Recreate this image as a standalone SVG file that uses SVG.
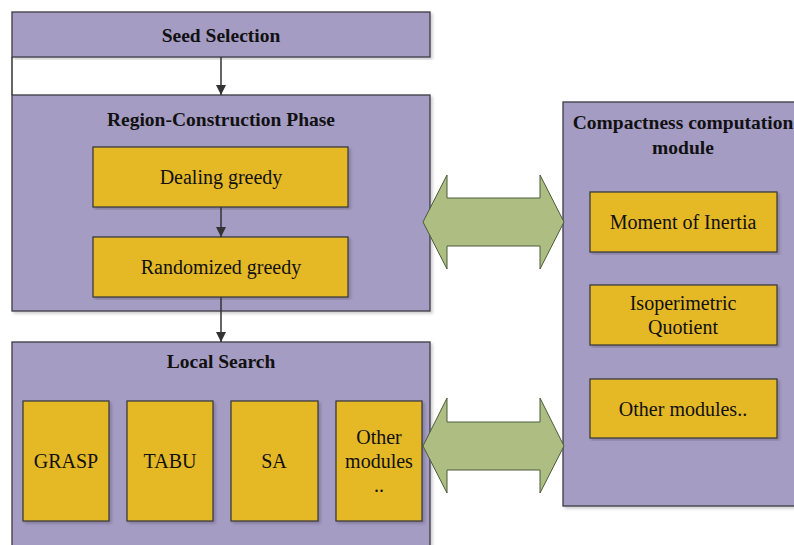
<svg xmlns="http://www.w3.org/2000/svg" width="794" height="545" viewBox="0 0 794 545">
<defs>
<style>
.outer{fill:#A59CC4;stroke:#3C3C44;stroke-width:1.3}
.inner{fill:#E5B826;stroke:#3C3C3C;stroke-width:1.3}
.big{fill:#AEBE82;stroke:#4A5A3A;stroke-width:1}
.t{font-family:"Liberation Serif","Times New Roman",serif;fill:#111;text-anchor:middle}
.b{font-weight:bold;font-size:19.5px}
.r{font-size:20px}
.ln{stroke:#333;stroke-width:1.5;fill:none}
</style>
<marker id="ah" viewBox="0 0 10 10" refX="10" refY="5" markerWidth="10" markerHeight="10" markerUnits="userSpaceOnUse" orient="auto">
<path d="M0,0 L10,5 L0,10 z" fill="#333"/>
</marker>
<filter id="sh" x="-5%" y="-5%" width="110%" height="110%">
<feDropShadow dx="2" dy="2" stdDeviation="1.5" flood-color="#000" flood-opacity="0.2"/>
</filter>
</defs>
<rect width="794" height="545" fill="#fff"/>

<g id="seed">
<rect class="outer" x="12" y="12" width="418" height="45" filter="url(#sh)"/>
<text class="t b" x="221" y="42">Seed Selection</text>
</g>

<g id="region">
<rect class="outer" x="12" y="95" width="418" height="216" filter="url(#sh)"/>
<text class="t b" x="221" y="126">Region-Construction Phase</text>
</g>
<g id="dealing">
<rect class="inner" x="93" y="147" width="255" height="60" filter="url(#sh)"/>
<text class="t r" x="221" y="184">Dealing greedy</text>
</g>
<g id="randomized">
<rect class="inner" x="93" y="237" width="255" height="60" filter="url(#sh)"/>
<text class="t r" x="221" y="274">Randomized greedy</text>
</g>

<g id="local">
<rect class="outer" x="12" y="342" width="418" height="215" filter="url(#sh)"/>
<text class="t b" x="221" y="368">Local Search</text>
</g>
<g id="grasp">
<rect class="inner" x="23" y="401" width="86" height="120" filter="url(#sh)"/>
<text class="t r" x="66" y="468">GRASP</text>
</g>
<g id="tabu">
<rect class="inner" x="127" y="401" width="86" height="120" filter="url(#sh)"/>
<text class="t r" x="170" y="468">TABU</text>
</g>
<g id="sa">
<rect class="inner" x="231" y="401" width="87" height="120" filter="url(#sh)"/>
<text class="t r" x="274" y="468">SA</text>
</g>
<g id="other-ls">
<rect class="inner" x="336" y="401" width="86" height="120" filter="url(#sh)"/>
<text class="t r" x="379" y="444">Other</text>
<text class="t r" x="379" y="468">modules</text>
<text class="t r" x="379" y="492">..</text>
</g>

<g id="compact">
<rect class="outer" x="563" y="102" width="240" height="404" filter="url(#sh)"/>
<text class="t b" x="683" y="129">Compactness computation</text>
<text class="t b" x="683" y="154">module</text>
</g>
<g id="moment">
<rect class="inner" x="590" y="192" width="187" height="60" filter="url(#sh)"/>
<text class="t r" x="683" y="229">Moment of Inertia</text>
</g>
<g id="iso">
<rect class="inner" x="590" y="285" width="187" height="60" filter="url(#sh)"/>
<text class="t r" x="683" y="310">Isoperimetric</text>
<text class="t r" x="683" y="334">Quotient</text>
</g>
<g id="other-cc">
<rect class="inner" x="590" y="379" width="187" height="59" filter="url(#sh)"/>
<text class="t r" x="683" y="416">Other modules..</text>
</g>

<g id="connectors">
<line class="ln" x1="12" y1="57" x2="12" y2="95"/>
<line class="ln" x1="221" y1="57" x2="221" y2="95" marker-end="url(#ah)"/>
<line class="ln" x1="221" y1="207" x2="221" y2="237" marker-end="url(#ah)"/>
<line class="ln" x1="221" y1="297" x2="221" y2="342" marker-end="url(#ah)"/>
<path class="big" d="M423,222 L447,175 L447,198 L540,198 L540,175 L564,222 L540,269 L540,246 L447,246 L447,269 Z"/>
<path class="big" d="M423,446 L447,398 L447,422 L540,422 L540,398 L564,446 L540,493 L540,470 L447,470 L447,493 Z"/>
</g>
</svg>
